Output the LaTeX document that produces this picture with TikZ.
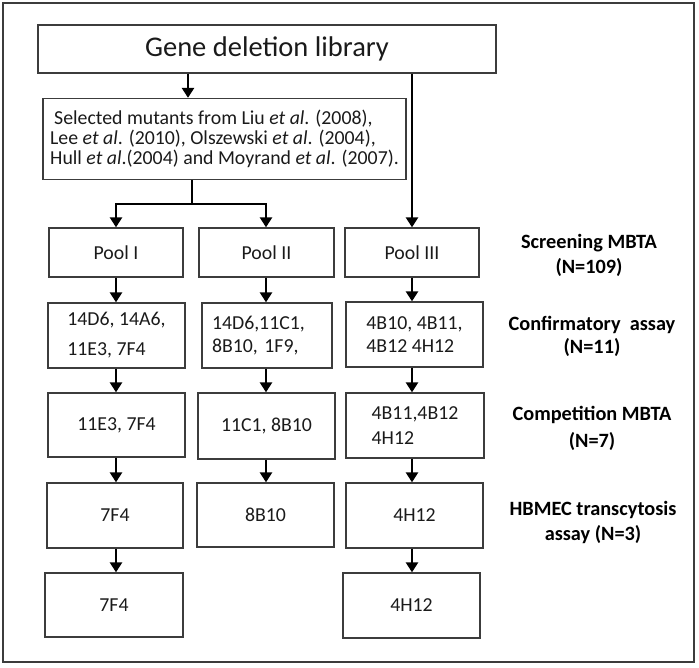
\documentclass[tikz,border=0pt]{standalone}
\usepackage{fontspec}
\setmainfont{Carlito}
\usetikzlibrary{arrows.meta}
\definecolor{boxc}{HTML}{3C3C3C}
\definecolor{txt}{HTML}{1A1A1A}
\begin{document}
\begin{tikzpicture}[x=1pt,y=-1pt,
  bx/.style={draw=boxc, line width=1.3pt, inner sep=0pt, text=txt, font=\fontsize{19.8}{23}\selectfont},
  arr/.style={line width=2.9pt, draw=black, -{Triangle[length=10pt,width=12pt]}},
  ln/.style={line width=2.9pt, draw=black},
  lab/.style={font=\bfseries\fontsize{20.3}{25}\selectfont, align=center, text=black, inner sep=0pt}]
\useasboundingbox (0,0) rectangle (699,667);
\node[draw=boxc, line width=1.8pt, minimum width=691pt, minimum height=659pt, inner sep=0pt] (frame) at (348.5,332.5) {};

% top
\node[bx, minimum width=458pt, minimum height=48pt, font=\fontsize{28.5}{32}\selectfont] (gene) at (267,49) {Gene deletion library};
\node[bx, minimum width=363pt, minimum height=81pt, align=left, font=\fontsize{19.8}{20}\selectfont] (sel) at (224.5,139)
  {\hspace*{4pt}Selected mutants from Liu \textit{et al}. (2008),\\Lee \textit{et al}. (2010), Olszewski \textit{et al}. (2004),\\Hull \textit{et al}.(2004) and Moyrand \textit{et al}. (2007).};

% pools
\node[bx, minimum width=134pt, minimum height=49pt] (p1) at (116,252.5) {Pool I};
\node[bx, minimum width=135pt, minimum height=49pt] (p2) at (266.5,252.5) {Pool II};
\node[bx, minimum width=134pt, minimum height=49pt] (p3) at (412,252.5) {Pool III};

% confirmatory
\node[bx, minimum width=137pt, minimum height=65pt, align=left, font=\fontsize{19.8}{30}\selectfont] (cf1) at (116.5,335.5) {14D6, 14A6,\\11E3, 7F4};
\node[bx, minimum width=130pt, minimum height=65pt, text width=110pt, align=left] (cf2) at (267,335.5) {14D6,11C1,\\8B10, 1F9,};
\node[bx, minimum width=137pt, minimum height=65pt, align=left] (cf3) at (414.5,334.5) {4B10, 4B11,\\4B12 4H12};

% competition
\node[bx, minimum width=137pt, minimum height=64pt] (cp1) at (116.5,425) {11E3, 7F4};
\node[bx, minimum width=137pt, minimum height=66pt] (cp2) at (266.5,426) {11C1, 8B10};
\node[bx, minimum width=138pt, minimum height=65pt, align=left, font=\fontsize{19.8}{25}\selectfont] (cp3) at (415,425.5) {4B11,4B12\\4H12};

% HBMEC
\node[bx, minimum width=136pt, minimum height=65pt] (hb1) at (115,515.5) {7F4};
\node[bx, minimum width=137pt, minimum height=64pt] (hb2) at (265.5,515) {8B10};
\node[bx, minimum width=137pt, minimum height=65pt] (hb3) at (414.5,515.5) {4H12};

% final
\node[bx, minimum width=138pt, minimum height=64pt] (f1) at (114,605) {7F4};
\node[bx, minimum width=137pt, minimum height=65pt] (f3) at (411.5,605.5) {4H12};

% labels
\node[lab] (l1) at (589,255.5) {Screening MBTA\\(N=109)};
\node[lab] (l2) at (592,336.5) {Confirmatory~ assay\\[-2pt](N=11)};
\node[lab] (l3) at (592,428.5) {Competition MBTA\\[2pt](N=7)};
\node[lab] (l4) at (593,522.5) {HBMEC transcytosis\\assay (N=3)};

% helper coordinates
\coordinate (c1) at (116,0);
\coordinate (c2) at (266,0);
\coordinate (c3) at (412,0);
\coordinate (g1) at (188,0);
\coordinate (st) at (192,204);
\coordinate (bl) at (116,204);
\coordinate (brr) at (266,204);

% connectors
\draw[arr] (gene.south -| g1) -- (sel.north -| g1);
\draw[ln] (st |- sel.south) -- (st);
\draw[arr] (brr) -- (bl) -- (p1.north -| bl);
\draw[arr] (bl) -- (brr) -- (p2.north -| brr);
\draw[arr] (gene.south -| p3) -- (p3.north);

\draw[arr] (p1.south -| c1) -- (cf1.north -| c1);
\draw[arr] (cf1.south -| c1) -- (cp1.north -| c1);
\draw[arr] (cp1.south -| c1) -- (hb1.north -| c1);
\draw[arr] (hb1.south -| c1) -- (f1.north -| c1);

\draw[arr] (p2.south -| c2) -- (cf2.north -| c2);
\draw[arr] (cf2.south -| c2) -- (cp2.north -| c2);
\draw[arr] (cp2.south -| c2) -- (hb2.north -| c2);

\draw[arr] (p3.south -| c3) -- (cf3.north -| c3);
\draw[arr] (cf3.south -| c3) -- (cp3.north -| c3);
\draw[arr] (cp3.south -| c3) -- (hb3.north -| c3);
\draw[arr] (hb3.south -| c3) -- (f3.north -| c3);
\end{tikzpicture}
\end{document}
